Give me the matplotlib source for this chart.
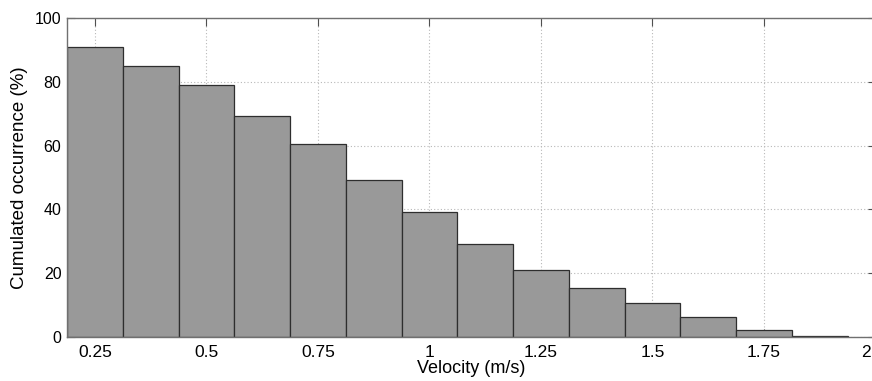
import matplotlib.pyplot as plt
import numpy as np

plt.rcParams['font.family'] = ['Liberation Sans', 'DejaVu Sans']
plt.rcParams['font.size'] = 12

# bin centres (m/s) and cumulated occurrence (%)
velocity = [0.25, 0.375, 0.5, 0.625, 0.75, 0.875, 1.0, 1.125,
            1.25, 1.375, 1.5, 1.625, 1.75, 1.875]
occurrence = [91.0, 85.0, 79.1, 69.2, 60.4, 49.3, 39.1, 29.2,
              20.9, 15.4, 10.8, 6.3, 2.3, 0.4]
xticks = [0.25, 0.5, 0.75, 1, 1.25, 1.5, 1.75, 2]
xticklabels = ['0.25', '0.5', '0.75', '1', '1.25', '1.5', '1.75', '2']
yticks = [0, 20, 40, 60, 80, 100]

fig = plt.figure(figsize=(8.72, 3.81), dpi=100)
# right spine sits just outside the picture, as in the original crop
ax = fig.add_axes([67 / 872, 44 / 381, 808.5 / 872, 319 / 381])

ax.bar(velocity, occurrence, width=0.125, color='#999999',
       edgecolor='#2e2e2e', linewidth=0.9, zorder=2)

ax.set_xlim(0.1875, 2)
ax.set_ylim(0, 100)
ax.set_xticks(xticks)
# last label ("2") is cut by the image edge in the original -> pull it inside
ax.set_xticklabels(xticklabels[:-1] + [''])
ax.set_yticks(yticks)

ax.grid(True, linestyle=(0, (1, 2)), color='#b8b8b8', linewidth=0.8, zorder=0)
ax.set_axisbelow(True)

for s in ax.spines.values():
    s.set_color('#707070')
    s.set_linewidth(1.0)

ax.tick_params(direction='in', length=5.5, width=0.8, color='#505050',
               top=True, right=True)
ax.tick_params(axis='x', pad=6, labelsize=12.5)
ax.tick_params(axis='y', pad=4, labelsize=11.5)

fig.text(871 / 872, 1 - 352.5 / 381, xticklabels[-1], ha='right', va='center',
         fontsize=12.5)

ax.set_xlabel('Velocity (m/s)', fontsize=13, labelpad=0)
ax.set_ylabel('Cumulated occurrence (%)', fontsize=13.5, labelpad=5)

fig.savefig('out.png', dpi=100, facecolor='white')
